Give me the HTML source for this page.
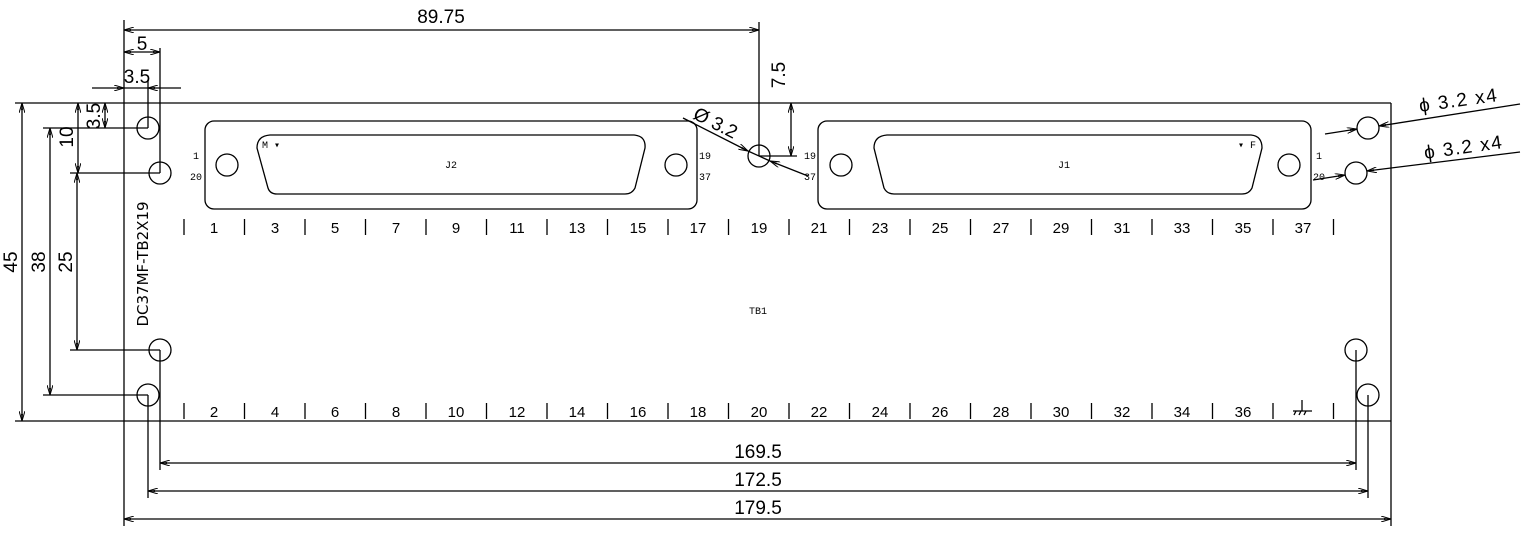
<!DOCTYPE html>
<html><head><meta charset="utf-8"><style>
html,body{margin:0;padding:0;background:#fff;}
svg{display:block;}
text{font-family:"Liberation Sans",sans-serif;fill:#000;}
.d{font-size:19px;}
.s{font-size:10px;font-family:"Liberation Mono",monospace;}
.n{font-size:15px;font-family:"DejaVu Sans",sans-serif;}
</style></head><body>
<svg width="1523" height="537" viewBox="0 0 1523 537" xmlns="http://www.w3.org/2000/svg">
<defs>
<marker id="a" viewBox="0 0 10 6" refX="10" refY="3" markerWidth="10" markerHeight="6" orient="auto-start-reverse" markerUnits="userSpaceOnUse">
<path d="M0,0 L10,3 L0,6" fill="none" stroke="#000" stroke-width="1"/><path d="M3,2 L10,3 L3,4z" fill="#000"/>
</marker>
</defs>
<g stroke="#000" stroke-width="1.3" fill="none">
<line x1="15" y1="103" x2="1391" y2="103"/>
<line x1="15" y1="421" x2="1391" y2="421"/>
<line x1="124" y1="20" x2="124" y2="526"/>
<line x1="1391" y1="103" x2="1391" y2="526"/>
<circle cx="148" cy="128" r="11"/><circle cx="160" cy="173" r="11"/>
<circle cx="160" cy="350" r="11"/><circle cx="148" cy="395" r="11"/>
<circle cx="1368" cy="128" r="11"/><circle cx="1356" cy="173" r="11"/>
<circle cx="1356" cy="350" r="11"/><circle cx="1368" cy="395" r="11"/>
<circle cx="759" cy="156" r="11"/>
<rect x="205" y="121" width="492" height="88" rx="9"/>
<path d="M270,135 L634,135 Q646,136 645,148 L635,188 Q632,194 625,194 L277,194 Q270,194 268,188 L257,148 Q257,136 270,135 Z"/>
<circle cx="227" cy="165" r="11"/><circle cx="676" cy="165" r="11"/>
<rect x="818" y="121" width="493" height="88" rx="9"/>
<path d="M887,135 L1251,135 Q1262,136 1262,148 L1252,188 Q1249,194 1242,194 L894,194 Q887,194 884,188 L874,148 Q874,136 887,135 Z"/>
<circle cx="841" cy="165" r="11"/><circle cx="1289" cy="165" r="11"/>
<g id="tk">
<line x1="184" y1="219" x2="184" y2="235"/><line x1="244.5" y1="219" x2="244.5" y2="235"/><line x1="305" y1="219" x2="305" y2="235"/><line x1="365.5" y1="219" x2="365.5" y2="235"/><line x1="426" y1="219" x2="426" y2="235"/><line x1="486.5" y1="219" x2="486.5" y2="235"/><line x1="547" y1="219" x2="547" y2="235"/><line x1="607.5" y1="219" x2="607.5" y2="235"/><line x1="668" y1="219" x2="668" y2="235"/><line x1="728.5" y1="219" x2="728.5" y2="235"/><line x1="789" y1="219" x2="789" y2="235"/><line x1="849.5" y1="219" x2="849.5" y2="235"/><line x1="910" y1="219" x2="910" y2="235"/><line x1="970.5" y1="219" x2="970.5" y2="235"/><line x1="1031" y1="219" x2="1031" y2="235"/><line x1="1091.5" y1="219" x2="1091.5" y2="235"/><line x1="1152" y1="219" x2="1152" y2="235"/><line x1="1212.5" y1="219" x2="1212.5" y2="235"/><line x1="1273" y1="219" x2="1273" y2="235"/><line x1="1333.5" y1="219" x2="1333.5" y2="235"/>
</g>
<use href="#tk" transform="translate(0,184)"/>
<line x1="1302" y1="400" x2="1302" y2="411"/><line x1="1293" y1="411" x2="1312" y2="411"/>
<line x1="1296" y1="411" x2="1294" y2="415"/><line x1="1301" y1="411" x2="1299" y2="415"/><line x1="1306" y1="411" x2="1304" y2="415"/>
<line x1="160" y1="48" x2="160" y2="173"/>
<line x1="160" y1="350" x2="160" y2="470"/>
<line x1="148" y1="80" x2="148" y2="128"/>
<line x1="148" y1="395" x2="148" y2="498"/>
<line x1="759" y1="22" x2="759" y2="156"/>
<line x1="759" y1="156" x2="797" y2="156"/>
<line x1="1356" y1="350" x2="1356" y2="470"/>
<line x1="1368" y1="395" x2="1368" y2="498"/>
<line x1="43" y1="128" x2="148" y2="128"/>
<line x1="43" y1="395" x2="148" y2="395"/>
<line x1="70" y1="173" x2="160" y2="173"/>
<line x1="70" y1="350" x2="160" y2="350"/>
</g>
<g stroke="#000" stroke-width="1.3" fill="none" marker-start="url(#a)" marker-end="url(#a)">
<line x1="124" y1="30" x2="759" y2="30" marker-end=""/>
<line x1="124" y1="52" x2="160" y2="52"/>
<line x1="22" y1="103" x2="22" y2="421"/>
<line x1="50" y1="128" x2="50" y2="395"/>
<line x1="77" y1="173" x2="77" y2="350"/>
<line x1="78" y1="103" x2="78" y2="173"/>
<line x1="105" y1="103" x2="105" y2="128"/>
<line x1="791" y1="103" x2="791" y2="156"/>
<line x1="160" y1="463" x2="1356" y2="463"/>
<line x1="148" y1="491" x2="1368" y2="491"/>
<line x1="124" y1="519" x2="1391" y2="519"/>
</g>
<g stroke="#000" stroke-width="1.3" fill="none">
<line x1="92" y1="88" x2="124" y2="88" marker-end="url(#a)"/>
<line x1="181" y1="88" x2="148" y2="88" marker-end="url(#a)"/>
<line x1="124" y1="88" x2="148" y2="88"/>
<line x1="683" y1="118" x2="748" y2="151" marker-end="url(#a)"/>
<line x1="808" y1="176" x2="770" y2="161" marker-end="url(#a)"/>
<line x1="748" y1="151" x2="770" y2="161"/>
<line x1="1520" y1="104" x2="1379" y2="126" marker-end="url(#a)"/>
<line x1="1325" y1="134" x2="1357" y2="129" marker-end="url(#a)"/>
<line x1="1520" y1="152" x2="1367" y2="171" marker-end="url(#a)"/>
<line x1="1313" y1="180" x2="1345" y2="175" marker-end="url(#a)"/>
</g>
<text class="d" x="441" y="23" text-anchor="middle">89.75</text>
<text class="d" x="142" y="50" text-anchor="middle">5</text>
<text class="d" x="137" y="83" text-anchor="middle">3.5</text>
<text class="d" transform="translate(785,75) rotate(-90)" text-anchor="middle">7.5</text>
<text class="d" transform="translate(17,262) rotate(-90)" text-anchor="middle">45</text>
<text class="d" transform="translate(45,262) rotate(-90)" text-anchor="middle">38</text>
<text class="d" transform="translate(72,262) rotate(-90)" text-anchor="middle">25</text>
<text class="d" transform="translate(73,137) rotate(-90)" text-anchor="middle">10</text>
<text class="d" transform="translate(100,116) rotate(-90)" text-anchor="middle">3.5</text>
<text class="d" x="758" y="458" text-anchor="middle">169.5</text>
<text class="d" x="758" y="486" text-anchor="middle">172.5</text>
<text class="d" x="758" y="514" text-anchor="middle">179.5</text>
<text class="d" transform="translate(692,118) rotate(27)" font-size="21">Ø 3.2</text>
<text class="d" transform="translate(1420,112) rotate(-8)" font-size="20" letter-spacing="1.5">ϕ 3.2 x4</text>
<text class="d" transform="translate(1425,159) rotate(-8)" font-size="20" letter-spacing="1.5">ϕ 3.2 x4</text>
<text class="n" transform="translate(148,264) rotate(-90)" text-anchor="middle">DC37MF-TB2X19</text>
<text class="s" x="193" y="159">1</text><text class="s" x="190" y="180">20</text>
<text class="s" x="699" y="159">19</text><text class="s" x="699" y="180">37</text>
<text class="s" x="804" y="159">19</text><text class="s" x="804" y="180">37</text>
<text class="s" x="1316" y="159">1</text><text class="s" x="1313" y="180">20</text>
<text class="s" x="262" y="148" font-size="8">M ▾</text>
<text class="s" x="1238" y="148" font-size="8">▾ F</text>
<text class="s" x="451" y="168" text-anchor="middle" font-size="8">J2</text>
<text class="s" x="1064" y="168" text-anchor="middle" font-size="8">J1</text>
<text class="s" x="758" y="314" text-anchor="middle">TB1</text>
<g class="n" text-anchor="middle">
<text x="214" y="233">1</text><text x="275" y="233">3</text><text x="335" y="233">5</text><text x="396" y="233">7</text><text x="456" y="233">9</text><text x="517" y="233">11</text><text x="577" y="233">13</text><text x="638" y="233">15</text><text x="698" y="233">17</text><text x="759" y="233">19</text><text x="819" y="233">21</text><text x="880" y="233">23</text><text x="940" y="233">25</text><text x="1001" y="233">27</text><text x="1061" y="233">29</text><text x="1122" y="233">31</text><text x="1182" y="233">33</text><text x="1243" y="233">35</text><text x="1303" y="233">37</text>
<text x="214" y="417">2</text><text x="275" y="417">4</text><text x="335" y="417">6</text><text x="396" y="417">8</text><text x="456" y="417">10</text><text x="517" y="417">12</text><text x="577" y="417">14</text><text x="638" y="417">16</text><text x="698" y="417">18</text><text x="759" y="417">20</text><text x="819" y="417">22</text><text x="880" y="417">24</text><text x="940" y="417">26</text><text x="1001" y="417">28</text><text x="1061" y="417">30</text><text x="1122" y="417">32</text><text x="1182" y="417">34</text><text x="1243" y="417">36</text>
</g>
</svg>
</body></html>
